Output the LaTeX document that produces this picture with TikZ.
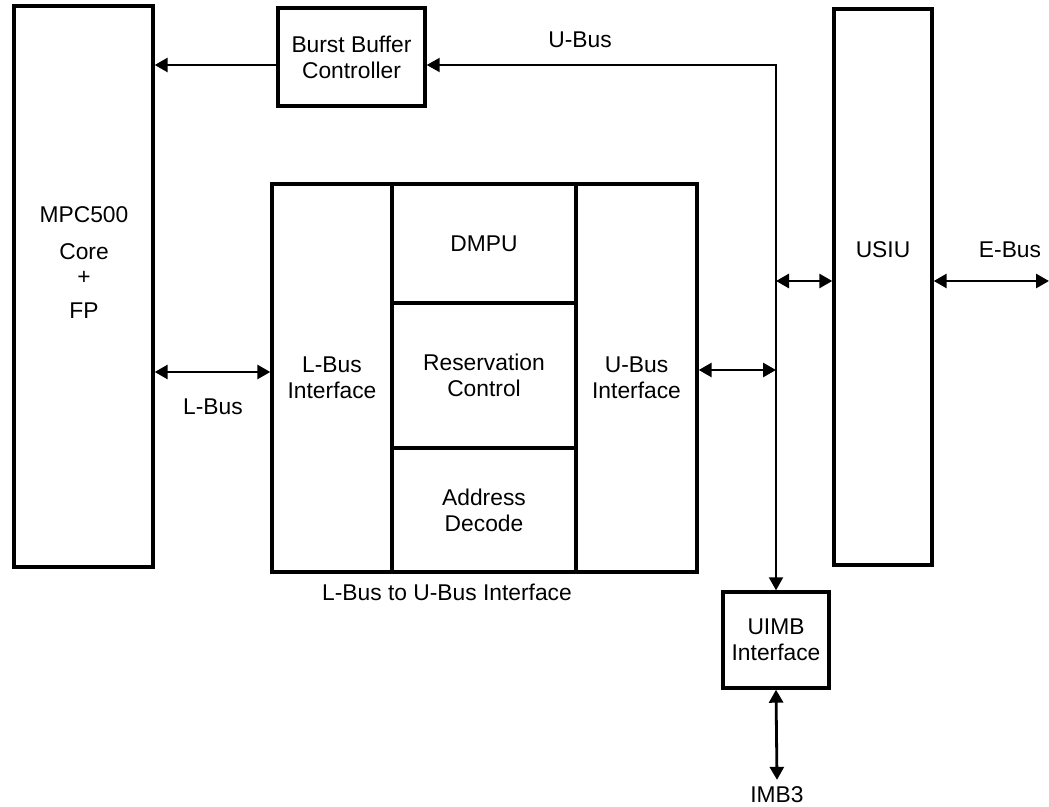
\documentclass[tikz,border=0pt]{standalone}
\usepackage{fontspec}
\setmainfont{Liberation Sans}
\usetikzlibrary{arrows.meta}
\begin{document}
\begin{tikzpicture}[
  x=0.5pt, y=-0.5pt,
  every node/.style={font=\fontsize{11.4}{13}\selectfont, align=center},
  block/.style={draw, line width=1.7pt, inner sep=0pt},
  arrow/.style={line width=1.4pt, -{Triangle[length=6.5pt,width=7pt]}},
  both/.style={line width=1.4pt, {Triangle[length=6.5pt,width=7pt]}-{Triangle[length=6.5pt,width=7pt]}},
  bus/.style={line width=1pt, {Triangle[length=6.5pt,width=7pt]}-{Triangle[length=6.5pt,width=7pt]}}
]
\useasboundingbox (0,0) rectangle (1049,807);
% blocks
\node[block, minimum width=69.5pt, minimum height=280.5pt] (mpc) at (83.5,286.5) {};
\node (mpctext) at (84,263) {MPC500\\[5.5pt] Core\\[-0.5pt] +\\[4pt] FP};
\node[block, minimum width=73.5pt, minimum height=49pt] (bbc) at (351.5,57) {Burst Buffer\\Controller};
\node[block, minimum width=49pt, minimum height=278pt] (usiu) at (883,287) {};
\node (usiutext) at (883,250) {USIU};
\node[block, minimum width=53pt, minimum height=48pt] (uimb) at (776,640) {UIMB\\Interface};
% L-Bus to U-Bus interface
\node[block, minimum width=60pt, minimum height=194pt] (lbi) at (332,378) {L-Bus\\Interface};
\node[block, minimum width=92pt, minimum height=59.5pt] (dmpu) at (484,243.5) {DMPU};
\node[block, minimum width=92pt, minimum height=72.5pt] (resv) at (484,375.5) {Reservation\\Control};
\node[block, minimum width=92pt, minimum height=62pt] (adec) at (484,510) {Address\\Decode};
\node[block, minimum width=60.5pt, minimum height=194pt] (ubi) at (636.5,378) {U-Bus\\Interface};
\node (ifcap) at (447,592) {L-Bus to U-Bus Interface};
% bus labels
\node (ubus) at (580,40) {U-Bus};
\node (ebus) at (1010,250) {E-Bus};
\node (lbus) at (213,407) {L-Bus};
\node (imb) at (777,795) {IMB3};
\coordinate (ubtop) at (776,65);
\coordinate (ebend) at (1049,281);
% connectors
\draw[arrow] (bbc.west |- ubtop) -- (mpc.east |- ubtop);
\draw[bus] (bbc.east |- ubtop) -- (ubtop) -- (uimb.north);
\draw[both] (mpc.east |- 0,372) -- (lbi.west |- 0,372);
\draw[both] (ubi.east |- 0,370) -- (ubtop |- 0,370);
\draw[both] (ubtop |- 0,281) -- (usiu.west |- 0,281);
\draw[both] (usiu.east |- ebend) -- (ebend);
\draw[both] (uimb.south) -- (imb.north);
\end{tikzpicture}
\end{document}
